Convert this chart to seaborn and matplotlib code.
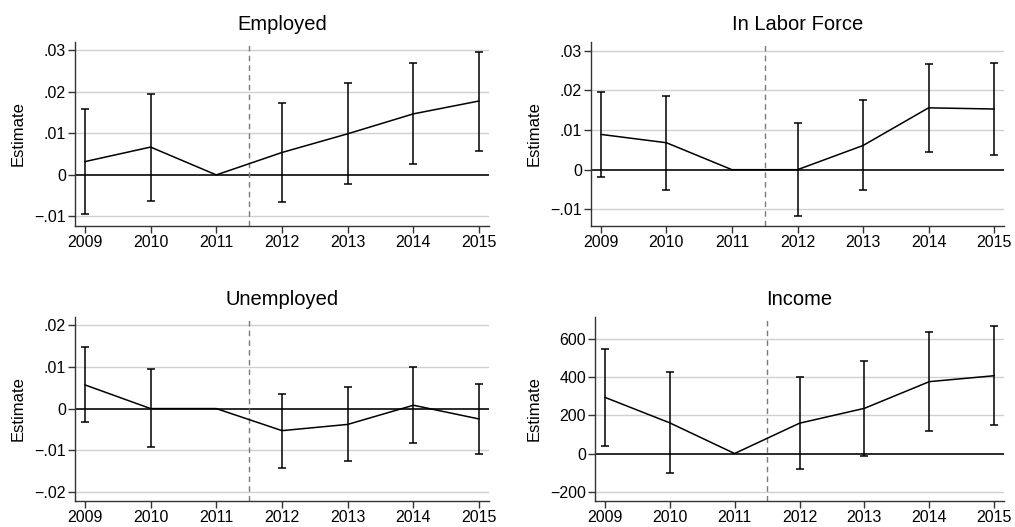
import matplotlib
matplotlib.use("Agg")
import matplotlib.pyplot as plt
import seaborn as sns
import pandas as pd
from matplotlib.ticker import FixedLocator, FuncFormatter

# Event-study estimates with 95% confidence bounds (2011 is the omitted base year)
years = [2009, 2010, 2011, 2012, 2013, 2014, 2015]

employed_est = [0.0032, 0.0067, 0.0, 0.0054, 0.0099, 0.0147, 0.0178]
employed_lo = [-0.0095, -0.0063, None, -0.0065, -0.0022, 0.0026, 0.0058]
employed_hi = [0.0158, 0.0196, None, 0.0173, 0.0221, 0.0269, 0.0297]

laborforce_est = [0.0089, 0.0068, 0.0, 0.0, 0.0061, 0.0156, 0.0153]
laborforce_lo = [-0.0018, -0.0050, None, -0.0118, -0.0052, 0.0045, 0.0037]
laborforce_hi = [0.0196, 0.0186, None, 0.0118, 0.0176, 0.0266, 0.0270]

unemployed_est = [0.0057, 0.0, 0.0, -0.0053, -0.0038, 0.0008, -0.0025]
unemployed_lo = [-0.0033, -0.0092, None, -0.0142, -0.0126, -0.0083, -0.0109]
unemployed_hi = [0.0148, 0.0094, None, 0.0035, 0.0051, 0.0101, 0.0060]

income_est = [295, 161, 0, 159, 237, 377, 408]
income_lo = [42, -100, None, -83, -12, 119, 151]
income_hi = [547, 426, None, 402, 484, 635, 671]

titles = ["Employed", "In Labor Force", "Unemployed", "Income"]
yticks_small = [-0.01, 0.0, 0.01, 0.02, 0.03]
yticks_unemp = [-0.02, -0.01, 0.0, 0.01, 0.02]
yticks_income = [-200, 0, 200, 400, 600]
policy_line = 2011.5

sns.set_style("white")
plt.rcParams["font.family"] = ["Liberation Sans", "DejaVu Sans"]
plt.rcParams["text.color"] = "black"
plt.rcParams["axes.labelcolor"] = "black"
plt.rcParams["xtick.color"] = "black"
plt.rcParams["ytick.color"] = "black"

W, H = 1015, 527
fig = plt.figure(figsize=(W / 100, H / 100), dpi=100)


def add_axes(left, right, top, bottom):
    return fig.add_axes([left / W, 1 - bottom / H, (right - left) / W, (bottom - top) / H])


def fmt_decimal(v, pos):
    if abs(v) < 1e-12:
        return "0"
    s = f"{abs(v):.2f}".lstrip("0")
    return ("\u2212" if v < 0 else "") + s


def fmt_int(v, pos):
    return ("\u2212" if v < 0 else "") + f"{abs(int(round(v)))}"


panels = [
    (titles[0], employed_est, employed_lo, employed_hi, yticks_small, (-0.0123, 0.0320), fmt_decimal,
     (75, 489, 42, 226)),
    (titles[1], laborforce_est, laborforce_lo, laborforce_hi, yticks_small, (-0.0142, 0.0322), fmt_decimal,
     (591, 1004, 42, 226)),
    (titles[2], unemployed_est, unemployed_lo, unemployed_hi, yticks_unemp, (-0.0222, 0.0220), fmt_decimal,
     (75, 489, 317, 501)),
    (titles[3], income_est, income_lo, income_hi, yticks_income, (-249, 716), fmt_int,
     (595, 1004, 317, 501)),
]

for title, est, lo, hi, yt, ylim, fmt, box in panels:
    ax = add_axes(*box)
    df = pd.DataFrame({"year": years, "est": est, "lo": lo, "hi": hi})

    for t in yt:
        if t != 0:
            ax.axhline(t, color="#d0d0d0", lw=1.0, zorder=0)
    ax.axhline(0, color="#2b2b2b", lw=1.4, zorder=1)
    ax.axvline(policy_line, color="#7a7a7a", lw=1.0, ls=(0, (4, 3)), zorder=1)

    sns.lineplot(data=df, x="year", y="est", ax=ax, color="black", lw=1.1,
                 errorbar=None, zorder=3)

    ci = df.dropna(subset=["lo", "hi"])
    center = (ci["lo"] + ci["hi"]) / 2
    ax.errorbar(ci["year"], center, yerr=[center - ci["lo"], ci["hi"] - center],
                fmt="none", ecolor="black", elinewidth=1.1, capsize=2.9, capthick=1.1, zorder=3)

    ax.set_xlim(2008.85, 2015.15)
    ax.set_ylim(*ylim)
    ax.xaxis.set_major_locator(FixedLocator(years))
    ax.yaxis.set_major_locator(FixedLocator(yt))
    ax.yaxis.set_major_formatter(FuncFormatter(fmt))
    ax.xaxis.set_major_formatter(FuncFormatter(lambda v, p: f"{int(v)}"))

    for side in ["top", "right"]:
        ax.spines[side].set_visible(False)
    for side in ["left", "bottom"]:
        ax.spines[side].set_color("#333333")
        ax.spines[side].set_linewidth(1.0)

    ax.tick_params(axis="both", which="major", direction="out", length=5, width=1.0,
                   color="#333333", labelsize=11.5, pad=1.5, bottom=True, left=True)
    ax.set_xlabel("")
    ax.set_ylabel("Estimate", fontsize=12, labelpad=6)
    ax.set_title(title, fontsize=14.5, pad=9)
    ax.grid(False)

fig.savefig("out.png", dpi=100, facecolor="white")
